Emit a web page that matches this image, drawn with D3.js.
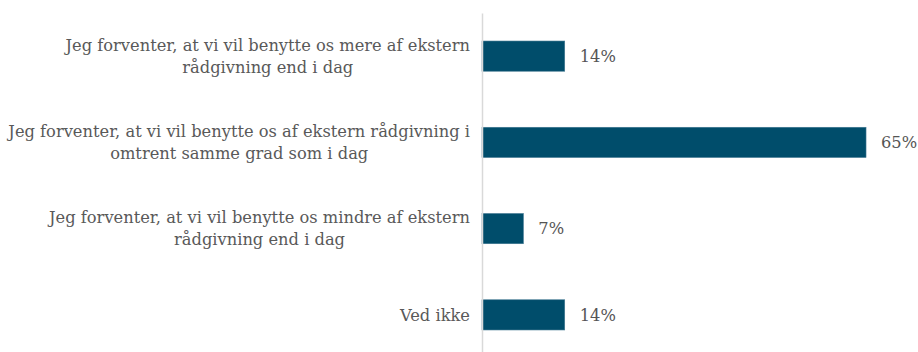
<!DOCTYPE html>
<html><head><meta charset="utf-8">
<script src="https://cdn.jsdelivr.net/npm/d3@7/dist/d3.min.js"></script>
<style>
html,body{margin:0;padding:0;background:#fff;}
svg{display:block;}
</style></head>
<body>
<svg id="chart" width="918" height="352"></svg>
<script>
const categories = [
  "Jeg forventer, at vi vil benytte os mere af ekstern\nrådgivning end i dag",
  "Jeg forventer, at vi vil benytte os af ekstern rådgivning i\nomtrent samme grad som i dag",
  "Jeg forventer, at vi vil benytte os mindre af ekstern\nrådgivning end i dag",
  "Ved ikke"
];
const values = [14, 65, 7, 14];
const valueLabels = ["14%", "65%", "7%", "14%"];

const svg = d3.select("#chart");
const FONT = "'DejaVu Serif', Georgia, serif";
const axisX = 482;

const probe = svg.append("text").attr("font-family", FONT).attr("font-size", 16)
  .text("Jeg forventer, at vi vil benytte os af ekstern rådgivning i");
const w16 = probe.node().getComputedTextLength();
probe.remove();
const fs = Math.min(18, 16 * 462 / w16);

const y = d3.scaleBand().domain(categories).range([13, 358])
  .paddingInner(0.65).paddingOuter(0.325);
const x = d3.scaleLinear().domain([0, 100]).range([axisX, axisX + 590.8]);

svg.append("g").selectAll("rect").data(values).join("rect")
  .attr("x", x(0))
  .attr("y", (d, i) => y(categories[i]))
  .attr("width", d => x(d) - x(0))
  .attr("height", y.bandwidth())
  .attr("fill", "#004d6b")
  .attr("stroke", "#3f7690")
  .attr("stroke-width", 0.6);

const ax = svg.append("g").attr("transform", `translate(${axisX},0)`)
  .call(d3.axisLeft(y).tickSize(0).tickPadding(12));
ax.select(".domain").attr("stroke", "#d9d9d9").attr("stroke-width", 1.5);
ax.selectAll(".tick text")
  .attr("font-family", FONT).attr("font-size", fs).attr("fill", "#595959")
  .each(function(d) {
    const t = d3.select(this);
    const lines = d.split("\n");
    const lh = 22;
    t.text(null).attr("dy", null).attr("text-anchor", "middle");
    const tmp = [];
    lines.forEach((ln, k) => {
      tmp.push(t.append("tspan").attr("y", (k - (lines.length - 1) / 2) * lh).attr("dy", "0.35em").text(ln));
    });
    const widths = tmp.map(s => s.node().getComputedTextLength());
    const maxW = d3.max(widths);
    tmp.forEach(s => s.attr("x", -12 - maxW / 2));
  });

svg.append("g").selectAll("text").data(values).join("text")
  .attr("x", d => x(d) + 15)
  .attr("y", (d, i) => y(categories[i]) + y.bandwidth() / 2)
  .attr("dy", "0.35em")
  .attr("font-family", FONT).attr("font-size", fs).attr("fill", "#555555")
  .text((d, i) => valueLabels[i]);
</script>
</body></html>
